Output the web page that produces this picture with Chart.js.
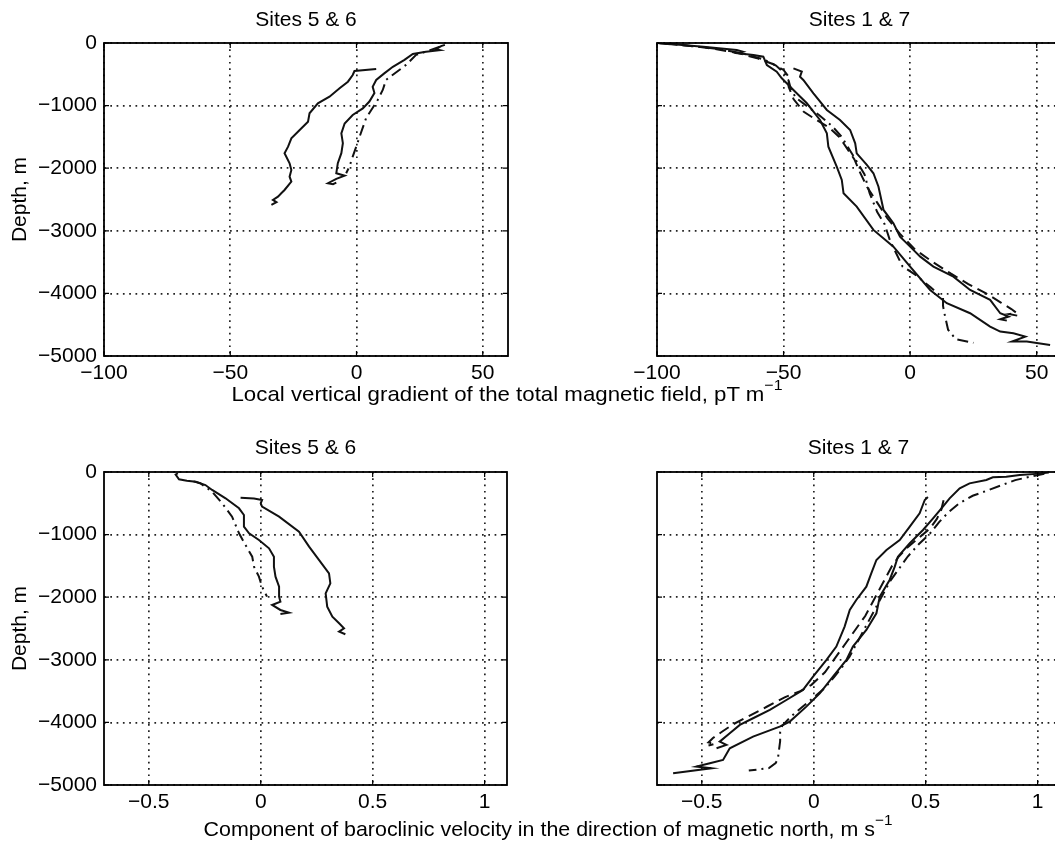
<!DOCTYPE html>
<html>
<head>
<meta charset="utf-8">
<title>Depth profiles</title>
<script src="https://cdn.jsdelivr.net/npm/chart.js@4.4.1/dist/chart.umd.min.js"></script>
<style>
    html, body { margin: 0; padding: 0; background: #fff; }
    body { width: 1055px; height: 841px; overflow: hidden; position: relative; font-family: "Liberation Sans", Arial, sans-serif; }
    canvas { position: absolute; }
    .xlabel { position: absolute; font-size: 21px; color: #000; white-space: nowrap; }
    .xlabel sup { font-size: 15px; position: relative; top: -3px; }
</style>
</head>
<body>
<canvas id="gradLeft" width="520" height="400" style="left:0px;top:0px"></canvas>
<canvas id="gradRight" width="460" height="400" style="left:620px;top:0px"></canvas>
<canvas id="velLeft" width="520" height="400" style="left:0px;top:420px"></canvas>
<canvas id="velRight" width="460" height="400" style="left:620px;top:420px"></canvas>
<div class="xlabel" style="left:507px;top:392px;transform:translate(-50%,-50%) scaleX(1.06)">Local vertical gradient of the total magnetic field, pT m<sup>−1</sup></div>
<div class="xlabel" style="left:548px;top:827px;transform:translate(-50%,-50%) scaleX(1.02)">Component of baroclinic velocity in the direction of magnetic north, m s<sup>−1</sup></div>

<script>
// tick labels
const depthTicks = [0, -1000, -2000, -3000, -4000, -5000];
const gradTicks = [-100, -50, 0, 50];
const velTicks = [-0.5, 0, 0.5, 1];

// --- magnetic gradient, sites 5 & 6 (pT/m vs depth m)
const g56SolidAx = [7.8, -0.8, -1.5, -3.4, -6.7, -10.7, -15.3, -18.6, -19.2, -22.5, -25.8, -27.1, -28.5, -26.5, -25.8, -26.5, -25.8, -28.5, -29.8, -31.1, -33.1, -31.7, -33.7];
const g56SolidAd = [-415, -447, -511, -618, -724, -857, -963, -1123, -1257, -1389, -1522, -1656, -1762, -1921, -2028, -2135, -2215, -2348, -2401, -2454, -2507, -2544, -2587];
const g56SolidBx = [35, 33.5, 31.5, 33, 27.5, 22.3, 19, 14.4, 11, 7.8, 6.4, 7.1, 5.1, 2.5, -1.5, -4.7, -6, -5.4, -6, -7.4, -8, -4.7, -8, -11.3, -9.3, -8];
const g56SolidBd = [-30, -50, -100, -115, -140, -175, -270, -380, -485, -590, -700, -800, -935, -1045, -1150, -1285, -1445, -1600, -1760, -1920, -2080, -2120, -2170, -2240, -2255, -2230];
const g56DotDashx = [33, 28, 23.6, 19.6, 11.7, 10.4, 8.4, 3.8, 1.2, -0.1, -1.5, -2.8, -4.1];
const g56DotDashd = [-60, -130, -190, -350, -590, -750, -910, -1200, -1500, -1655, -1815, -1975, -2080];

// --- magnetic gradient, sites 1 & 7
const g17SolidAx = [-100, -90, -81.7, -68.5, -66, -68, -61.9, -58, -56.6, -52.7, -50.7, -46.1, -40.8, -35.6, -32.9, -32.3, -29, -27, -26.3, -21.1, -14.5, -6.6, 0, 7.9, 14.5, 23.7, 31.6, 35.6, 40.8, 45.5, 40.2, 46.1, 55.3];
const g17SolidAd = [0, -30, -59, -112, -140, -165, -192, -218, -351, -458, -564, -750, -963, -1230, -1443, -1656, -1975, -2188, -2401, -2614, -2986, -3253, -3572, -3945, -4157, -4317, -4530, -4610, -4637, -4690, -4770, -4770, -4823];
const g17SolidBx = [-46.1, -42.8, -43.5, -42.2, -38.2, -32.9, -27.7, -23.7, -21.7, -21.1, -17.1, -14.5, -12.5, -10.5, -6.6, -4, 0, 4, 9.2, 17.1, 23.7, 31.6, 35.6, 38.9, 35.6, 38.2];
const g17SolidBd = [-405, -458, -538, -591, -804, -1070, -1230, -1389, -1602, -1762, -1948, -2081, -2295, -2667, -2880, -3093, -3253, -3413, -3572, -3732, -3945, -4104, -4317, -4370, -4413, -4435];
const g17Dashx = [-97, -88, -78, -68, -60, -54, -50, -48, -48, -46, -42, -37, -32, -28, -25, -22, -20, -17, -13, -9, -4, 2, 9, 16, 23, 30, 36, 40, 42, 39, 43];
const g17Dashd = [-10, -40, -90, -160, -250, -340, -430, -540, -700, -900, -1100, -1230, -1350, -1500, -1680, -1860, -2050, -2300, -2550, -2800, -3050, -3300, -3500, -3680, -3850, -4000, -4150, -4250, -4310, -4330, -4360];
const g17DotDashx = [-99, -92, -84, -75, -66, -58, -53, -50, -48, -47, -45, -41, -36, -31, -27, -24, -21, -18, -16, -13, -10, -8, -3, 2, 8, 13, 13, 13.5, 15, 18, 25];
const g17DotDashd = [-5, -30, -60, -100, -170, -260, -360, -470, -600, -750, -880, -1000, -1150, -1320, -1500, -1700, -1900, -2100, -2400, -2700, -2900, -3150, -3570, -3700, -3900, -4070, -4200, -4310, -4580, -4730, -4790];

// --- baroclinic velocity, sites 5 & 6 (m/s vs depth m)
const v56SolidAx = [-0.37, -0.38, -0.365, -0.33, -0.29, -0.247, -0.217, -0.157, -0.097, -0.075, -0.075, -0.052, -0.008, 0.037, 0.059, 0.059, 0.066, 0.082, 0.082, 0.088, 0.051, 0.088, 0.126, 0.088];
const v56SolidAd = [-20, -40, -117, -140, -155, -208, -287, -420, -580, -687, -873, -979, -1086, -1219, -1353, -1512, -1672, -1832, -1991, -2071, -2124, -2204, -2247, -2268];
const v56SolidBx = [-0.09, -0.03, 0.006, 0.0, 0.006, 0.082, 0.171, 0.216, 0.26, 0.305, 0.311, 0.29, 0.297, 0.32, 0.35, 0.372, 0.35, 0.378];
const v56SolidBd = [-410, -425, -447, -500, -554, -713, -953, -1193, -1405, -1618, -1778, -1938, -2151, -2311, -2417, -2497, -2550, -2592];
const v56DotDashx = [-0.3, -0.27, -0.217, -0.172, -0.128, -0.097, -0.068, -0.038, -0.03, -0.008, 0.006, 0.028];
const v56DotDashd = [-150, -180, -314, -500, -713, -979, -1166, -1353, -1512, -1672, -1832, -1991];

// --- baroclinic velocity, sites 1 & 7
const v17SolidAx = [0.51, 0.496, 0.473, 0.429, 0.384, 0.325, 0.28, 0.257, 0.235, 0.19, 0.161, 0.138, 0.101, 0.057, -0.003, -0.048, -0.122, -0.196, -0.271, -0.33, -0.375, -0.42, -0.39, -0.434];
const v17SolidAd = [-400, -447, -660, -873, -1086, -1246, -1405, -1618, -1832, -2044, -2204, -2470, -2789, -3002, -3269, -3482, -3642, -3801, -3934, -4040, -4173, -4307, -4360, -4413];
const v17SolidBx = [1.05, 1.009, 0.92, 0.86, 0.8, 0.771, 0.696, 0.652, 0.607, 0.577, 0.533, 0.488, 0.429, 0.376, 0.362, 0.339, 0.295, 0.28, 0.235, 0.175, 0.146, 0.086, 0.027, -0.033, -0.107, -0.152, -0.271, -0.375, -0.405, -0.464, -0.524, -0.457, -0.628];
const v17SolidBd = [-10, -26, -48, -75, -85, -128, -181, -261, -421, -554, -740, -926, -1139, -1353, -1512, -1725, -1991, -2257, -2523, -2789, -3002, -3269, -3535, -3748, -3987, -4067, -4227, -4413, -4600, -4653, -4706, -4733, -4813];
const v17Dashx = [0.58, 0.57, 0.55, 0.52, 0.47, 0.42, 0.38, 0.35, 0.32, 0.29, 0.26, 0.23, 0.19, 0.15, 0.1, 0.05, -0.01, -0.06, -0.13, -0.21, -0.29, -0.36, -0.41, -0.45, -0.47, -0.44, -0.47];
const v17Dashd = [-450, -600, -750, -900, -1050, -1200, -1350, -1500, -1700, -1900, -2100, -2300, -2500, -2700, -2950, -3200, -3400, -3500, -3600, -3750, -3900, -4030, -4150, -4250, -4320, -4340, -4370];
const v17DotDashx = [1.03, 0.96, 0.9, 0.84, 0.78, 0.71, 0.65, 0.6, 0.56, 0.52, 0.47, 0.42, 0.38, 0.34, 0.31, 0.28, 0.25, 0.22, 0.19, 0.16, 0.13, 0.09, 0.05, 0.0, -0.05, -0.1, -0.14, -0.15, -0.15, -0.16, -0.17, -0.2, -0.29];
const v17DotDashd = [-30, -80, -130, -210, -290, -380, -500, -650, -800, -980, -1150, -1350, -1550, -1750, -1950, -2150, -2350, -2550, -2750, -2950, -3100, -3280, -3450, -3600, -3750, -3900, -4050, -4150, -4300, -4580, -4650, -4730, -4770];

Chart.defaults.font.family = '"Liberation Sans", Arial, Helvetica, sans-serif';
Chart.defaults.font.size = 21;
Chart.defaults.color = '#000';

const SOLID = [];
const DASH = [11, 6];
const DOTDASH = [11, 5, 2, 5];

function line(xs, ds, dash) {
    return {
        data: xs.map((v, i) => ({ x: v, y: ds[i] })),
        showLine: true,
        borderColor: '#111',
        borderWidth: 2,
        borderDash: dash,
        pointRadius: 0,
        fill: false,
        tension: 0,
    };
}

function minusFmt(v) {
    return v < 0 ? '\u2212' + String(-v) : String(v);
}

// frame, inward ticks and panel title (matlab style)
const framePlugin = {
    id: 'frame',
    afterDraw(chart, args, opts) {
        const ctx = chart.ctx;
        const a = chart.chartArea;
        const xs = chart.scales.x, ys = chart.scales.y;
        ctx.save();
        ctx.strokeStyle = '#000';
        ctx.lineWidth = 1.8;
        ctx.setLineDash([]);
        ctx.strokeRect(a.left, a.top, a.right - a.left, a.bottom - a.top);
        ctx.lineWidth = 1.2;
        const tl = 5;
        xs.ticks.forEach((t) => {
            const px = xs.getPixelForValue(t.value);
            ctx.beginPath();
            ctx.moveTo(px, a.bottom); ctx.lineTo(px, a.bottom - tl);
            ctx.moveTo(px, a.top); ctx.lineTo(px, a.top + tl);
            ctx.stroke();
        });
        ys.ticks.forEach((t) => {
            const py = ys.getPixelForValue(t.value);
            ctx.beginPath();
            ctx.moveTo(a.left, py); ctx.lineTo(a.left + tl, py);
            ctx.moveTo(a.right, py); ctx.lineTo(a.right - tl, py);
            ctx.stroke();
        });
        ctx.fillStyle = '#000';
        ctx.font = '21px "Liberation Sans", Arial, sans-serif';
        ctx.textAlign = 'center';
        ctx.textBaseline = 'middle';
        ctx.fillText(opts.text, (a.left + a.right) / 2, opts.y);
        ctx.restore();
    },
};

function makePanel(id, cfg) {
    const ctx = document.getElementById(id).getContext('2d');
    return new Chart(ctx, {
        type: 'scatter',
        data: { datasets: cfg.datasets },
        options: {
            responsive: false,
            animation: false,
            devicePixelRatio: 1,
            layout: { padding: { top: cfg.top, right: cfg.right, left: 0, bottom: 0 } },
            plugins: {
                legend: { display: false },
                tooltip: { enabled: false },
                frame: { text: cfg.title, y: cfg.titleY },
            },
            scales: {
                x: {
                    type: 'linear',
                    min: cfg.xMin,
                    max: cfg.xMax,
                    afterBuildTicks: (s) => { s.ticks = cfg.xTicks.map((v) => ({ value: v })); },
                    afterFit: (s) => { s.height = cfg.xAxisH; },
                    grid: { color: '#222', lineWidth: 1.7, drawTicks: false },
                    border: { display: false, dash: [1.7, 4.6] },
                    ticks: { padding: 5, autoSkip: false, maxRotation: 0, callback: minusFmt },
                },
                y: {
                    type: 'linear',
                    min: -5000,
                    max: 0,
                    afterBuildTicks: (s) => { s.ticks = depthTicks.map((v) => ({ value: v })); },
                    afterFit: (s) => { s.width = cfg.yAxisW; },
                    grid: { color: '#222', lineWidth: 1.7, drawTicks: false },
                    border: { display: false, dash: [1.7, 4.6] },
                    ticks: { display: cfg.yLabels, padding: 7, autoSkip: false, callback: minusFmt },
                    title: { display: cfg.yLabels, text: 'Depth, m', padding: { top: 8, bottom: 0 }, font: { size: 21 } },
                },
            },
        },
        plugins: [framePlugin],
    });
}

makePanel('gradLeft', {
    title: 'Sites 5 & 6', titleY: 20, top: 43, right: 12, xAxisH: 44, yAxisW: 104, yLabels: true,
    xMin: -100, xMax: 60, xTicks: gradTicks,
    datasets: [
        line(g56SolidAx, g56SolidAd, SOLID),
        line(g56SolidBx, g56SolidBd, SOLID),
        line(g56DotDashx, g56DotDashd, DOTDASH),
    ],
});

makePanel('gradRight', {
    title: 'Sites 1 & 7', titleY: 20, top: 43, right: 18, xAxisH: 44, yAxisW: 37, yLabels: false,
    xMin: -100, xMax: 60, xTicks: gradTicks,
    datasets: [
        line(g17SolidAx, g17SolidAd, SOLID),
        line(g17SolidBx, g17SolidBd, SOLID),
        line(g17Dashx, g17Dashd, DASH),
        line(g17DotDashx, g17DotDashd, DOTDASH),
    ],
});

makePanel('velLeft', {
    title: 'Sites 5 & 6', titleY: 28, top: 52, right: 13, xAxisH: 35, yAxisW: 104, yLabels: true,
    xMin: -0.7, xMax: 1.1, xTicks: velTicks,
    datasets: [
        line(v56SolidAx, v56SolidAd, SOLID),
        line(v56SolidBx, v56SolidBd, SOLID),
        line(v56DotDashx, v56DotDashd, DOTDASH),
    ],
});

makePanel('velRight', {
    title: 'Sites 1 & 7', titleY: 28, top: 52, right: 20, xAxisH: 35, yAxisW: 37, yLabels: false,
    xMin: -0.7, xMax: 1.1, xTicks: velTicks,
    datasets: [
        line(v17SolidAx, v17SolidAd, SOLID),
        line(v17SolidBx, v17SolidBd, SOLID),
        line(v17Dashx, v17Dashd, DASH),
        line(v17DotDashx, v17DotDashd, DOTDASH),
    ],
});
</script>
</body>
</html>
